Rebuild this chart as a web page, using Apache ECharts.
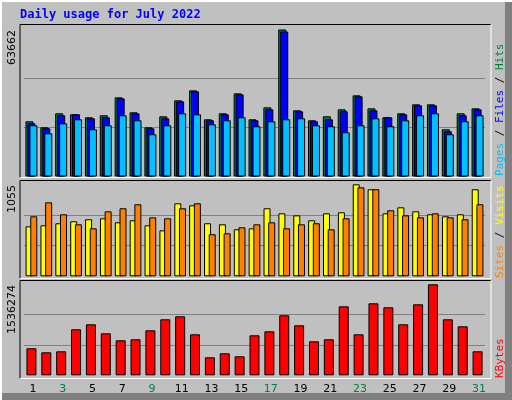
<!DOCTYPE html>
<html><head><meta charset="utf-8">
<script src="https://cdn.jsdelivr.net/npm/echarts@6/dist/echarts.min.js"></script>
<style>html,body{margin:0;padding:0;background:#c0c0c0}#c{width:512px;height:400px}</style>
</head><body><div id="c"></div>
<script>
const days = ['1','2','3','4','5','6','7','8','9','10','11','12','13','14','15','16','17','18','19','20','21','22','23','24','25','26','27','28','29','30','31'];
const weekend = [2,3,9,10,16,17,23,24,30,31];
const hits = [23909,21316,27366,26934,25637,26502,34280,27798,21316,26069,32983,37304,24773,27366,36008,24773,29958,63662,28662,24341,26069,29094,35143,29526,25637,27366,31255,31255,20452,27366,29526];
const files = [23045,20884,26502,26934,25205,25637,33847,27366,20884,25205,32551,36872,24341,26934,35575,24341,29094,62797,28230,23909,24773,28230,34711,28662,25637,26934,30822,30822,19588,26502,29094];
const pages = [22181,18724,23045,24773,20452,22181,26502,24341,18292,22181,27366,26934,22613,24341,25637,21749,23909,24773,25205,22181,21749,19156,22181,25205,21749,24341,26502,27366,18292,23909,26502];
const visits = [573,585,608,631,654,665,619,642,585,527,837,814,608,596,539,550,780,722,699,642,722,734,1055,998,722,791,745,711,688,711,998];
const sites = [688,848,711,596,550,745,780,826,676,665,780,837,482,493,562,596,619,550,596,608,539,665,1020,998,757,699,676,722,676,654,826];
const kbytes = [455800,388300,405100,776500,860900,709000,590800,607700,759600,945300,995900,692100,303900,371400,320700,675200,742800,1012800,844000,573900,607700,1164700,692100,1215400,1147900,860900,1198500,1536274,945300,827100,405100];
const maxTop = 63662, maxMid = 1055, maxBot = 1536274;

const chart = echarts.init(document.getElementById('c'), null, {renderer:'canvas'});
const L = 24, W = 461;
const grids = [
  {left:L, width:W, top:29.5, height:147},
  {left:L, width:W, top:184.3, height:92},
  {left:L, width:W, top:284.3, height:91}
];
function xa(i, show){
  return {type:'category', gridIndex:i, data:days, axisLine:{show:false}, axisTick:{show:false},
    axisLabel:{show:show, fontFamily:'DejaVu Sans', fontSize:11, margin:8, padding:[0,0,0,3],
      color:(v)=>weekend.includes(+v)?'#008040':'#000000'}};
}
function ya(i, max){
  return {type:'value', gridIndex:i, min:0, max:max, interval:max/3, axisLine:{show:false}, axisTick:{show:false},
    axisLabel:{show:false}, splitLine:{show:true, lineStyle:{color:['transparent','#808080','#808080','transparent'], width:1}}};
}
function bar(name, data, xi, color, w, gap, z){
  return {type:'bar', name, data, xAxisIndex:xi, yAxisIndex:xi, barWidth:w, barGap:gap, z:z, animation:false,
    itemStyle:{color, borderColor:'#000', borderWidth:1}};
}
function panel(y1, y2){
  return [
    {type:'line', shape:{x1:20,y1:y1,x2:491,y2:y1}, style:{stroke:'#000',lineWidth:1}, z:-1},
    {type:'line', shape:{x1:20,y1:y1,x2:20,y2:y2}, style:{stroke:'#000',lineWidth:1}, z:-1},
    {type:'line', shape:{x1:20,y1:y2,x2:491,y2:y2}, style:{stroke:'#fff',lineWidth:1}, z:-1},
    {type:'line', shape:{x1:491,y1:y1,x2:491,y2:y2}, style:{stroke:'#fff',lineWidth:1}, z:-1}
  ];
}
function vtext(x, yBottom, rich, text){
  return {type:'text', x:x, y:yBottom, rotation:Math.PI/2, z:10,
    style:{text:text, rich:rich, font:'11px DejaVu Sans Mono', fill:'#000', verticalAlign:'middle', align:'left'}};
}
const graphics = [
  {type:'rect', shape:{x:1,y:1,width:510,height:398}, style:{fill:'#c0c0c0', stroke:'#fff', lineWidth:2}, z:-3},
  {type:'rect', shape:{x:505,y:2,width:7,height:398}, style:{fill:'#808080'}, z:-2},
  {type:'rect', shape:{x:2,y:393,width:510,height:7}, style:{fill:'#808080'}, z:-2},
  {type:'text', x:20, y:9, style:{text:'Daily usage for July 2022', font:'bold 12px DejaVu Sans Mono', fill:'#0000ff'}},
  ...panel(24.5,177.5), ...panel(180.5,278.5), ...panel(280.5,378.5),
  {type:'text', x:12, y:30, rotation:Math.PI/2, style:{text:'63662', font:'11px DejaVu Sans', fill:'#000', align:'right', verticalAlign:'middle'}},
  {type:'text', x:12, y:185, rotation:Math.PI/2, style:{text:'1055', font:'11px DejaVu Sans', fill:'#000', align:'right', verticalAlign:'middle'}},
  {type:'text', x:12, y:285, rotation:Math.PI/2, style:{text:'1536274', font:'11px DejaVu Sans', fill:'#000', align:'right', verticalAlign:'middle'}},
  vtext(500, 176, {p:{fill:'#00c0ff'},s:{fill:'#000'},f:{fill:'#0000ff'},h:{fill:'#008040'}}, '{p|Pages}{s| / }{f|Files}{s| / }{h|Hits}'),
  vtext(500, 278, {a:{fill:'#ff8000'},s:{fill:'#000'},b:{fill:'#ffff00'}}, '{a|Sites}{s| / }{b|Visits}'),
  vtext(500, 378, {k:{fill:'#ff0000'}}, '{k|KBytes}')
];
// rotated text: rotation PI/2 reads bottom-to-top with align left anchored at (x,yBottom)
graphics.forEach(g=>{ if(g.type==='text' && g.style && g.style.rich){ g.style.align='left'; } });
chart.setOption({
  animation:false,
  backgroundColor:'#c0c0c0',
  grid:grids,
  xAxis:[xa(0,false), xa(1,false), xa(2,true)],
  yAxis:[ya(0,maxTop), ya(1,maxMid), ya(2,maxBot)],
  series:[
    bar('Hits', hits, 0, '#008040', 8, '-75%', 2),
    bar('Files', files, 0, '#0000ff', 8, '-75%', 3),
    bar('Pages', pages, 0, '#00c0ff', 8, '-75%', 4),
    bar('Visits', visits, 1, '#ffff00', 7, '-33%', 2),
    bar('Sites', sites, 1, '#ff8000', 7, '-33%', 3),
    bar('KBytes', kbytes, 2, '#ff0000', 10, '0%', 2)
  ],
  graphic:graphics
});
</script></body></html>
